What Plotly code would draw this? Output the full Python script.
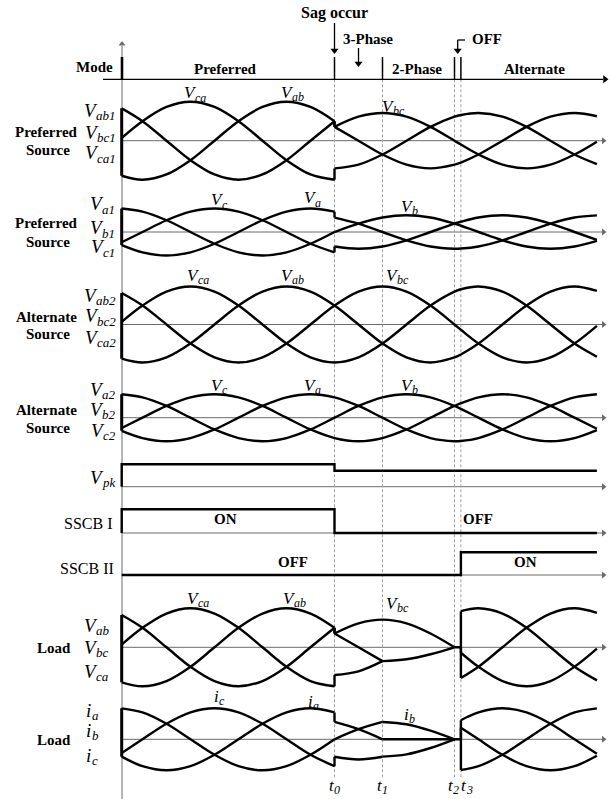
import plotly.graph_objects as go

W, H = 611, 799

# ---------------- data ----------------
# electrical angle (deg) of the sampled key points: peaks, crossings, event instants
ANGLE = [4, 30, 60, 90, 120, 150, 180, 210, 240, 270, 300, 330, 360, 390, 420, 428, 450, 480, 510, 540, 570, 598]
# normalised phase waveforms (a, b, c)
PH_A = [-0.559, -0.866, -1.0, -0.866, -0.5, 0.0, 0.5, 0.866, 1.0, 0.866, 0.5, 0.0, -0.5, -0.866, -1.0, -0.990, -0.866, -0.5, 0.0, 0.5, 0.866, 0.999]
PH_B = [0.998, 0.866, 0.5, 0.0, -0.5, -0.866, -1.0, -0.866, -0.5, 0.0, 0.5, 0.866, 1.0, 0.866, 0.5, 0.375, 0.0, -0.5, -0.866, -1.0, -0.866, -0.530]
PH_C = [-0.438, 0.0, 0.5, 0.866, 1.0, 0.866, 0.5, 0.0, -0.5, -0.866, -1.0, -0.866, -0.5, 0.0, 0.5, 0.616, 0.866, 1.0, 0.866, 0.5, 0.0, -0.469]
# normalised line-to-line waveforms (ab, bc, ca)
LL_AB = [-0.899, -1.0, -0.866, -0.5, 0.0, 0.5, 0.866, 1.0, 0.866, 0.5, 0.0, -0.5, -0.866, -1.0, -0.866, -0.788, -0.5, 0.0, 0.5, 0.866, 1.0, 0.883]
LL_BC = [0.829, 0.5, 0.0, -0.5, -0.866, -1.0, -0.866, -0.5, 0.0, 0.5, 0.866, 1.0, 0.866, 0.5, 0.0, -0.139, -0.5, -0.866, -1.0, -0.866, -0.5, -0.035]
LL_CA = [0.070, 0.5, 0.866, 1.0, 0.866, 0.5, 0.0, -0.5, -0.866, -1.0, -0.866, -0.5, 0.0, 0.5, 0.866, 0.927, 1.0, 0.866, 0.5, 0.0, -0.5, -0.848]

# event instants (deg): start, sag (t0), 2-phase (t1), off (t2), alternate (t3), end
T_START, T_SAG, T_2PH, T_OPEN, T_ALT, T_END = 4, 270, 330, 420, 428, 598
EVENT_SUBS = ["0", "1", "2", "3"]
SAG_V = 0.71          # remaining voltage during sag
SAG_I = 0.65          # remaining current during sag
OPEN_RATIO = -0.5     # V_ab = V_ca = -V_bc/2 with one phase open
I_2PH = 0.56          # i_b amplitude during 2-phase interval

VPK_T = [4, 4, 270, 598]
VPK_V = [0.0, 1.0, 0.71, 0.71]
SSCB1_T = [4, 4, 270, 598]
SSCB1_V = [0, 1, 0, 0]
SSCB2_T = [4, 428, 598]
SSCB2_V = [0, 1, 1]

MODE_LABELS = ["Preferred", "2-Phase", "Alternate"]
ARROW_T = [270, 300, 424]   # Sag occur, 3-Phase, OFF markers (deg)

# ---------------- layout helpers ----------------
def X(px):
    return px / W

def Y(py):
    return 1 - py / H

def ang2px(t):
    return 118.5 + 0.8 * t

def px2ang(px):
    return (px - 118.5) / 0.8

# panel: y-axis name -> (centre px, px per unit, ymin, ymax)
PANELS = {
    "y": (140.7, 39.0, -1.4, 1.4),
    "y2": (232.0, 23.5, -1.4, 1.4),
    "y3": (324.5, 38.0, -1.4, 1.4),
    "y4": (417.7, 23.5, -1.4, 1.4),
    "y5": (486.7, 22.4, -0.5, 1.5),
    "y6": (533.0, 23.7, -0.5, 1.5),
    "y7": (575.0, 22.7, -0.5, 1.5),
    "y8": (647.3, 39.0, -1.4, 1.4),
    "y9": (739.3, 31.0, -1.4, 1.4),
}
HEAD = "y10"   # frame axis in pixel units for the header / time axis decorations

fig = go.Figure()
LW = 2.4
AX_COL = "#6b6b6b"


def seg(shape, a, b, k=1.0):
    xs = [t for t in ANGLE if a <= t <= b]
    ys = [v * k for t, v in zip(ANGLE, shape) if a <= t <= b]
    return xs, ys


def at(shape, t):
    return shape[ANGLE.index(t)]


def curve(xs, ys, yax, shape="spline", width=LW, color="black"):
    fig.add_trace(go.Scatter(x=xs, y=ys, xaxis="x", yaxis=yax, mode="lines",
                             line=dict(color=color, width=width, shape=shape, smoothing=1.0),
                             hoverinfo="skip", showlegend=False))


def head(x, y, yax, symbol, size, color):
    fig.add_trace(go.Scatter(x=[x], y=[y], xaxis="x", yaxis=yax, mode="markers",
                             marker=dict(symbol=symbol, size=size, color=color, line=dict(width=0)),
                             hoverinfo="skip", showlegend=False, cliponaxis=False))


def jump(t, v0, v1, yax, width=LW):
    curve([t, t], [v0, v1], yax, shape="linear", width=width)


def start_edge(shapes, yax):
    vals = [at(s, T_START) for s in shapes]
    jump(T_START, min(vals), max(vals), yax, width=3)


# Preferred source (sag at t0)
for yax, shapes in (("y", (LL_AB, LL_BC, LL_CA)), ("y2", (PH_A, PH_B, PH_C))):
    for s in shapes:
        curve(*seg(s, T_START, T_SAG), yax)
        curve(*seg(s, T_SAG, T_END, SAG_V), yax)
        jump(T_SAG, at(s, T_SAG), at(s, T_SAG) * SAG_V, yax)
    start_edge(shapes, yax)

# Alternate source
for yax, shapes in (("y3", (LL_AB, LL_BC, LL_CA)), ("y4", (PH_A, PH_B, PH_C))):
    for s in shapes:
        curve(*seg(s, T_START, T_END), yax)
    start_edge(shapes, yax)

# Vpk and breakers
curve(VPK_T, VPK_V, "y5", shape="hv")
curve(SSCB1_T, SSCB1_V, "y6", shape="hv")
curve(SSCB2_T, SSCB2_V, "y7", shape="hv")

# Load voltage
for s in (LL_AB, LL_BC, LL_CA):
    curve(*seg(s, T_START, T_SAG), "y8")
    jump(T_SAG, at(s, T_SAG), at(s, T_SAG) * SAG_V, "y8")
    curve(*seg(s, T_ALT, T_END), "y8")
    jump(T_ALT, 0, at(s, T_ALT), "y8")
curve(*seg(LL_BC, T_SAG, T_OPEN, SAG_V), "y8")
for s in (LL_AB, LL_CA):
    curve(*seg(s, T_SAG, T_2PH, SAG_V), "y8")
curve(*seg(LL_BC, T_2PH, T_OPEN, SAG_V * OPEN_RATIO), "y8")
curve([T_OPEN, T_ALT], [0, 0], "y8", shape="linear")
start_edge((LL_AB, LL_BC, LL_CA), "y8")

# Load current
for s in (PH_A, PH_B, PH_C):
    curve(*seg(s, T_START, T_SAG), "y9")
    curve(*seg(s, T_SAG, T_2PH, SAG_I), "y9")
    jump(T_SAG, at(s, T_SAG), at(s, T_SAG) * SAG_I, "y9")
    curve(*seg(s, T_ALT, T_END), "y9")
    jump(T_ALT, 0, at(s, T_ALT), "y9")
curve(*seg(LL_BC, T_2PH, T_OPEN, I_2PH), "y9")
curve(*seg(LL_BC, T_2PH, T_OPEN, -I_2PH), "y9")
curve([T_2PH, T_ALT], [0, 0], "y9", shape="linear")
start_edge((PH_A, PH_B, PH_C), "y9")

# ---------------- axes ----------------
layout_axes = {}
layout_axes["xaxis"] = dict(range=[px2ang(0), px2ang(W)], domain=[0, 1], visible=False, fixedrange=True)
for name, (c, s, lo, hi) in PANELS.items():
    key = "yaxis" if name == "y" else "yaxis" + name[1:]
    layout_axes[key] = dict(range=[lo, hi], domain=[Y(c - lo * s), Y(c - hi * s)],
                            anchor="x", visible=False, fixedrange=True)
layout_axes["yaxis10"] = dict(range=[H, 0], domain=[0, 1], anchor="x", visible=False, fixedrange=True)

shapes = []
annotations = []

# panel baselines with arrowheads
for name in PANELS:
    shapes.append(dict(type="line", xref="paper", yref=name, x0=X(122), x1=X(602), y0=0, y1=0,
                       line=dict(color=AX_COL, width=1), layer="below"))
    head(px2ang(603.5), 0, name, "triangle-right", 6, AX_COL)

# mode axis
shapes.append(dict(type="line", xref="paper", yref="paper", x0=X(103), x1=X(603), y0=Y(79.3), y1=Y(79.3),
                   line=dict(color="black", width=1.3)))
head(px2ang(605), 79.3, HEAD, "triangle-right", 7, "black")
# vertical time axis
shapes.append(dict(type="line", xref="paper", yref="paper", x0=X(122), x1=X(122), y0=Y(799), y1=Y(46),
                   line=dict(color=AX_COL, width=1), layer="below"))
head(px2ang(122), 44, HEAD, "triangle-up", 6, AX_COL)
shapes.append(dict(type="line", xref="paper", yref="paper", x0=X(122), x1=X(122), y0=Y(57), y1=Y(79.3),
                   line=dict(color="black", width=2.6)))

EVENTS = [T_SAG, T_2PH, T_OPEN, T_ALT]
for t in EVENTS:
    shapes.append(dict(type="line", xref="x", yref="paper", x0=t, x1=t, y0=Y(57), y1=Y(79.3),
                       line=dict(color="black", width=1.5)))
    shapes.append(dict(type="line", xref="x", yref="paper", x0=t, x1=t, y0=Y(79.3), y1=Y(778),
                       line=dict(color="#a0a0a0", width=1, dash="3px,2px"), layer="below"))

# top event arrows (stems + heads)
for t, (y0, y1) in zip(ARROW_T, ((23, 49), (48, 62), (40, 49))):
    shapes.append(dict(type="line", xref="x", yref="paper", x0=t, x1=t, y0=Y(y0), y1=Y(y1),
                       line=dict(color="black", width=1.3)))
    head(t, y1 + 1.5, HEAD, "triangle-down", 7, "black")
shapes.append(dict(type="line", xref="x", yref="paper", x0=ARROW_T[2], x1=px2ang(465), y0=Y(40), y1=Y(40),
                   line=dict(color="black", width=1.3)))

SERIF = "Liberation Serif"
ITAL_W = {"V": 0.611, "i": 0.278, "t": 0.278, "a": 0.5, "b": 0.5, "c": 0.444, "p": 0.5, "k": 0.444,
          "0": 0.5, "1": 0.5, "2": 0.5, "3": 0.5}


def text(px, py, s, size=15, anchor="center", bold=False, italic=False):
    annotations.append(dict(x=X(px), y=Y(py), xref="paper", yref="paper", text=s, showarrow=False,
                            xanchor=anchor, yanchor="middle", borderpad=0, borderwidth=0,
                            font=dict(family=SERIF, size=size, color="black",
                                      weight="bold" if bold else "normal",
                                      style="italic" if italic else "normal")))


def sym(px, py, main, sub, size=19, anchor="left"):
    ssize = round(size * 0.7)
    wm = sum(ITAL_W[c] for c in main) * size
    ws = sum(ITAL_W[c] for c in sub) * ssize
    tot = wm + ws
    left = px if anchor == "left" else (px - tot if anchor == "right" else px - tot / 2)
    text(left, py, main, size, anchor="left", italic=True)
    text(left + wm + 0.5, py + 0.3 * size, sub, ssize, anchor="left", italic=True)


# titles
text(334, 13.5, "Sag occur", 16, bold=True)
text(368, 39, "3-Phase", 15, bold=True)
text(487, 39, "OFF", 15, bold=True)
text(94.5, 67, "Mode", 15, bold=True)
for px, s in zip((225.6, 417, 534), MODE_LABELS):
    text(px, 69, s, 15, bold=True)

# source labels
for (p1, p2), (a, b) in zip(((131.7, 150), (223.3, 241.7), (317.3, 334.3), (410, 428)),
                            (("Preferred", "Source"), ("Preferred", "Source"),
                             ("Alternate", "Source"), ("Alternate", "Source"))):
    text(46.5, p1, a, 15, bold=True)
    text(47.5, p2, b, 15, bold=True)
text(53.5, 648, "Load", 15, bold=True)
text(53.5, 740, "Load", 15, bold=True)

# waveform name labels at the axis
SIDE = [
    ((110, 132, 152.5), ("V", "V", "V"), ("ab1", "bc1", "ca1"), 115, "right"),
    ((203.5, 227.5, 247), ("V", "V", "V"), ("a1", "b1", "c1"), 115, "right"),
    ((295, 316, 337), ("V", "V", "V"), ("ab2", "bc2", "ca2"), 115, "right"),
    ((389, 409, 430), ("V", "V", "V"), ("a2", "b2", "c2"), 115, "right"),
    ((625, 647, 671), ("V", "V", "V"), ("ab", "bc", "ca"), 84, "left"),
    ((710, 730, 755), ("i", "i", "i"), ("a", "b", "c"), 86, "left"),
]
for ys, mains, subs, px, anc in SIDE:
    for py, m, sb in zip(ys, mains, subs):
        sym(px, py, m, sb, 19, anchor=anc)
sym(114, 477, "V", "pk", 19, anchor="right")
text(112, 523, "SSCB I", 16, anchor="right")
text(114, 568, "SSCB II", 16, anchor="right")

# breaker states
text(226, 519, "ON", 15, bold=True)
text(478, 519, "OFF", 15, bold=True)
text(293, 562, "OFF", 15, bold=True)
text(525, 562, "ON", 15, bold=True)

# in-plot waveform labels
INPLOT = [
    ((195, 93, "V", "ca"), (292, 92, "V", "ab"), (393, 106, "V", "bc")),
    ((219, 200, "V", "c"), (312, 198, "V", "a"), (409, 206, "V", "b")),
    ((198, 275, "V", "ca"), (292, 275, "V", "ab"), (397, 275, "V", "bc")),
    ((219, 385, "V", "c"), (312, 385, "V", "a"), (409, 385, "V", "b")),
    ((198, 598, "V", "ca"), (294, 598, "V", "ab"), (397, 603, "V", "bc")),
    ((219, 696, "i", "c"), (313, 701, "i", "a"), (409, 714, "i", "b")),
]
for row in INPLOT:
    for px, py, m, sb in row:
        sym(px, py, m, sb, 17, anchor="center")

# event labels
for t, sb, dx in zip(EVENTS, EVENT_SUBS, (0, 0, -1.5, 5.5)):
    sym(ang2px(t) + dx, 785, "t", sb, 17, anchor="center")

fig.update_layout(width=W, height=H, margin=dict(l=0, r=0, t=0, b=0, pad=0), autosize=False,
                  paper_bgcolor="white", plot_bgcolor="rgba(0,0,0,0)", showlegend=False,
                  shapes=shapes, annotations=annotations, **layout_axes)

fig.write_html("out.html", config={"displayModeBar": False},
               post_script="document.body.style.margin='0px';")
